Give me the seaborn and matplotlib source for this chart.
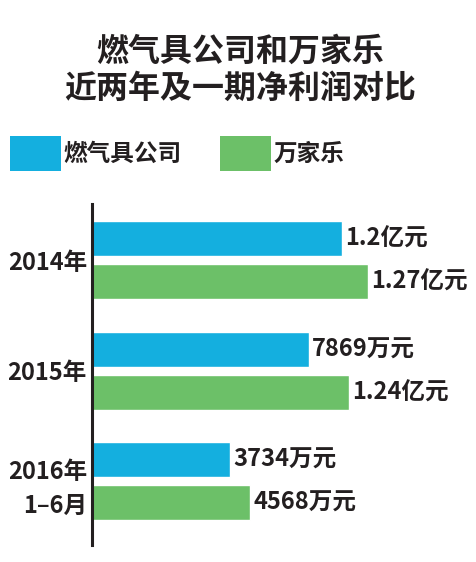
import pandas as pd
import matplotlib.pyplot as plt
import seaborn as sns
from matplotlib.patches import Patch

# Values. Bar lengths are as drawn (not to scale with the labels).
periods = ['2014年', '2015年', '2016年\n1–6月']
companies = ['燃气具公司', '万家乐']
gas_len = [250, 217, 138]
wjl_len = [276, 257, 158]
gas_labels = ['1.2亿元', '7869万元', '3734万元']
wjl_labels = ['1.27亿元', '1.24亿元', '4568万元']

colors = ['#14afdf', '#6cc068']
ink = '#231f20'

sns.set_theme(style='white')
plt.rcParams['font.family'] = ['Noto Sans CJK SC', 'DejaVu Sans']

df = pd.DataFrame({
    'period': periods * 2,
    'company': [companies[0]] * 3 + [companies[1]] * 3,
    'length': gas_len + wjl_len,
})

fig = plt.figure(figsize=(4.77, 5.62), dpi=100)
ax = fig.add_axes([92.5 / 477, 1 - 545 / 562, 1 - 92.5 / 477, (545 - 204) / 562])

sns.barplot(data=df, y='period', x='length', hue='company', palette=colors,
            orient='h', width=0.777, gap=0.186, saturation=1, legend=False, ax=ax)

for cont, labs in zip(ax.containers, [gas_labels, wjl_labels]):
    ax.bar_label(cont, labels=labs, padding=2, fontsize=17, fontweight='bold', color=ink)

ax.set_xlim(0, 384.5)
ax.set_ylim(2.574, -0.506)
ax.set_xlabel('')
ax.set_ylabel('')
ax.set_xticks([])
for s in ['top', 'right', 'bottom']:
    ax.spines[s].set_visible(False)
ax.spines['left'].set_linewidth(2.2)
ax.spines['left'].set_color(ink)
ax.tick_params(axis='y', length=0, pad=4, labelsize=17, labelcolor=ink)
for lab in ax.get_yticklabels():
    lab.set_fontweight('bold')
    lab.set_linespacing(1.5)

fig.text(0.503, 1 - 52 / 562, '燃气具公司和万家乐', ha='center', va='center',
         fontsize=23, fontweight='heavy', color=ink)
fig.text(0.503, 1 - 89 / 562, '近两年及一期净利润对比', ha='center', va='center',
         fontsize=23, fontweight='heavy', color=ink)

handles = [Patch(facecolor=c, edgecolor='none') for c in colors]
leg = fig.legend(handles, companies, loc='upper left', bbox_to_anchor=(10 / 477, 1 - 136 / 562),
                 ncol=2, frameon=False, fontsize=17, handlelength=2.16, handleheight=1.9,
                 handletextpad=0.12, columnspacing=1.6, borderpad=0, borderaxespad=0)
for t in leg.get_texts():
    t.set_fontweight('bold')
    t.set_color(ink)

fig.savefig('out.png', dpi=100)
